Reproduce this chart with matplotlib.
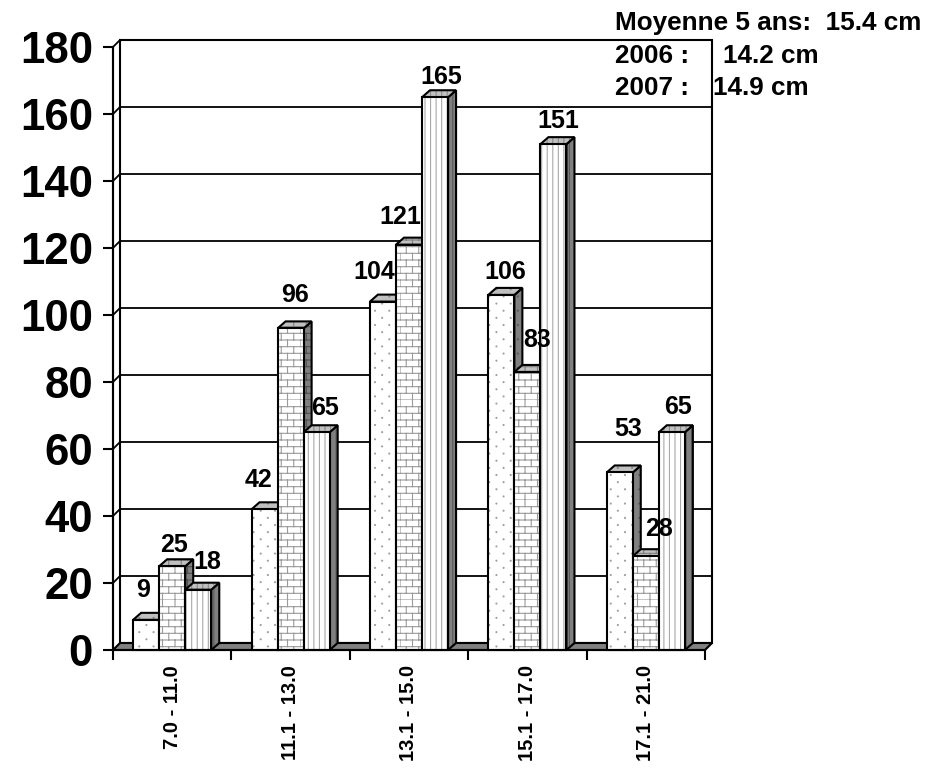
import warnings
warnings.filterwarnings('ignore')
import numpy as np
import matplotlib
matplotlib.use('Agg')
import matplotlib.pyplot as plt
import matplotlib.hatch as mhatch
from matplotlib.path import Path
from matplotlib.patches import Polygon

# ---------------- data ----------------
categories = ['7.0 - 11.0', '11.1 - 13.0', '13.1 - 15.0', '15.1 - 17.0', '17.1 - 21.0']
serie_moyenne = [9, 42, 104, 106, 53]
serie_2006 = [25, 96, 121, 83, 28]
serie_2007 = [18, 65, 165, 151, 65]
y_ticks = [0, 20, 40, 60, 80, 100, 120, 140, 160, 180]
note_lines = [('Moyenne 5 ans:  15.4 cm', ''), ('2006 :', '14.2 cm'), ('2007 :', '14.9 cm')]

# ---------------- custom hatches ----------------
class BrickHatch(mhatch.HatchPatternBase):
    def __init__(self, hatch, density):
        n = hatch.count('b')
        self.nrow = 15
        self.ncol = 8
        self.num_vertices = (2 * self.nrow + 2 * self.nrow * self.ncol) if n else 0

    def set_vertices_and_codes(self, vertices, codes):
        v = []
        for i in range(self.nrow):
            y0 = i / self.nrow
            y1 = (i + 1) / self.nrow
            v += [(0.0, y0), (1.0, y0)]
            off = 0.5 / self.ncol if i % 2 else 0.0
            for j in range(self.ncol):
                x = j / self.ncol + off
                v += [(x, y0), (x, y1)]
        vertices[:] = np.array(v)
        codes[0::2] = Path.MOVETO
        codes[1::2] = Path.LINETO


class DotHatch(mhatch.HatchPatternBase):
    def __init__(self, hatch, density):
        n = hatch.count('d')
        self.nrow = 14
        self.ncol = 7
        self.circle = Path.unit_circle()
        self.num_vertices = (self.nrow * self.ncol * len(self.circle.vertices)) if n else 0

    def set_vertices_and_codes(self, vertices, codes):
        r = 0.005
        nv = len(self.circle.vertices)
        k = 0
        for i in range(self.nrow):
            y = (i + 0.5) / self.nrow
            off = 0.5 / self.ncol if i % 2 else 0.0
            for j in range(self.ncol):
                x = (j + 0.25) / self.ncol + off
                vertices[k:k + nv] = self.circle.vertices * r + (x, y)
                codes[k:k + nv] = self.circle.codes
                k += nv


mhatch._hatch_types.append(BrickHatch)
mhatch._hatch_types.append(DotHatch)

plt.rcParams['hatch.linewidth'] = 0.8
plt.rcParams['font.family'] = ['Liberation Sans', 'DejaVu Sans']
plt.rcParams['font.weight'] = 'bold'

# ---------------- figure ----------------
W, H = 932, 768
fig = plt.figure(figsize=(W / 100, H / 100), dpi=100)
ax_left, ax_right, ax_top, ax_bottom = 113, 705, 47, 650
ax = fig.add_axes([ax_left / W, (H - ax_bottom) / H, (ax_right - ax_left) / W, (ax_bottom - ax_top) / H])
ncat = len(categories)
ymax = 180
ax.set_xlim(0, ncat)
ax.set_ylim(0, ymax)

px_x = ncat / (ax_right - ax_left)      # data units per pixel (x)
px_y = ymax / (ax_bottom - ax_top)      # data units per pixel (y)
wall_dx, wall_dy = 7 * px_x, 7 * px_y
bar_dx, bar_dy = 8 * px_x, 7 * px_y

LW = 1.5
z = [1]


def nextz():
    z[0] += 0.1
    return z[0]


def face(verts, fc, hatch=None, hc='black'):
    zz = nextz()
    ax.add_patch(Polygon(verts, closed=True, facecolor=fc, edgecolor=hc if hatch else fc,
                         hatch=hatch, linewidth=0, zorder=zz, clip_on=False))
    ax.add_patch(Polygon(verts, closed=True, fill=False, edgecolor='black',
                         linewidth=LW, zorder=zz + 0.01, clip_on=False, joinstyle='miter'))


# back wall
face([(wall_dx, wall_dy), (ncat + wall_dx, wall_dy), (ncat + wall_dx, ymax + wall_dy), (wall_dx, ymax + wall_dy)], 'white')
zg = nextz()
for t in y_ticks[1:]:
    ax.plot([wall_dx, ncat + wall_dx], [t + wall_dy, t + wall_dy], color='black', lw=1.3, zorder=zg, clip_on=False)
    ax.plot([0, wall_dx], [t, t + wall_dy], color='black', lw=1.3, zorder=zg, clip_on=False)
ax.plot([0, 0], [0, ymax], color='black', lw=LW, zorder=zg, clip_on=False)
# floor
face([(0, 0), (ncat, 0), (ncat + wall_dx, wall_dy), (wall_dx, wall_dy)], '#808080')

# bars
series = [serie_moyenne, serie_2006, serie_2007]
hatches = ['d', 'b', '|||']
front_hc = ['#a0a0a0', '#9a9a9a', '#a8a8a8']
side_hc = ['#5a5a5a', '#505050', '#5a5a5a']
top_hc = ['#8a8a8a', '#808080', '#8a8a8a']
bar_w = 0.22

label_off = [[(-3, 30), (-6, 29), (-9, 30), (4, 23), (8, 43)],
             [(2, 21), (4, 33), (-9, 28), (10, 32), (13, 27)],
             [(9, 28), (8, 24), (6, 20), (5, 23), (6, 25)]]

labels = []
for k in range(ncat):
    for i, s in enumerate(series):
        v = s[k]
        x0 = k + 0.5 - 1.5 * bar_w + i * bar_w
        x1 = x0 + bar_w
        # side
        face([(x1, 0), (x1 + bar_dx, bar_dy), (x1 + bar_dx, v + bar_dy), (x1, v)], '#808080', hatches[i], side_hc[i])
        # top
        face([(x0, v), (x1, v), (x1 + bar_dx, v + bar_dy), (x0 + bar_dx, v + bar_dy)], '#c0c0c0', hatches[i], top_hc[i])
        # front
        face([(x0, 0), (x1, 0), (x1, v), (x0, v)], 'white', hatches[i], front_hc[i])
        dx, dy = label_off[i][k]
        labels.append(((x0 + x1) / 2, v, str(v), dx, dy))

for x, v, s, dx, dy in labels:
    ax.annotate(s, xy=(x, v), xytext=(dx * 0.72, dy * 0.72), textcoords='offset points',
                ha='center', va='center', fontsize=18, fontweight='bold', zorder=50,
                annotation_clip=False)

# axes styling
for sp in ['top', 'right']:
    ax.spines[sp].set_visible(False)
for sp in ['left', 'bottom']:
    ax.spines[sp].set_linewidth(LW)
    ax.spines[sp].set_zorder(40)
ax.patch.set_visible(False)
ax.set_yticks(y_ticks)
ax.set_yticklabels([str(t) for t in y_ticks], fontsize=31.5, fontweight='bold')
ax.tick_params(axis='y', length=7.5, width=LW, pad=7)
ax.set_xticks(np.arange(ncat + 1))
ax.set_xticklabels([''] * (ncat + 1))
ax.set_xticks(np.arange(ncat) + 0.5, minor=True)
ax.set_xticklabels(categories, minor=True, rotation=90, fontsize=14.5, fontweight='bold', va='top', ha='center')
ax.tick_params(axis='x', which='major', length=7.5, width=LW)
ax.tick_params(axis='x', which='minor', length=0, pad=11)

# notes top right
fs_note = 18.8
fig.text(615 / W, 1 - 30 / H, note_lines[0][0], fontsize=fs_note, fontweight='bold', va='baseline', ha='left')
fig.text(615 / W, 1 - 63 / H, note_lines[1][0], fontsize=fs_note, fontweight='bold', va='baseline', ha='left')
fig.text(723 / W, 1 - 63 / H, note_lines[1][1], fontsize=fs_note, fontweight='bold', va='baseline', ha='left')
fig.text(615 / W, 1 - 95 / H, note_lines[2][0], fontsize=fs_note, fontweight='bold', va='baseline', ha='left')
fig.text(713 / W, 1 - 95 / H, note_lines[2][1], fontsize=fs_note, fontweight='bold', va='baseline', ha='left')

fig.savefig('out.png', dpi=100, facecolor='white')
